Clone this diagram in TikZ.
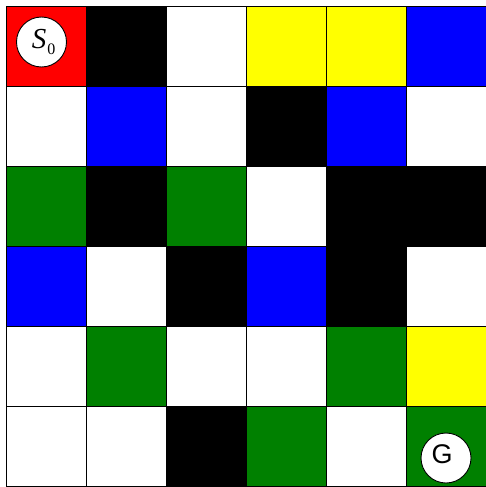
\documentclass[tikz,border=0pt]{standalone}
\usepackage{fontspec}
\newfontfamily\serifA{Liberation Serif}
\newfontfamily\sansA{Liberation Sans}
\definecolor{cR}{RGB}{255,0,0}
\definecolor{cK}{RGB}{0,0,0}
\definecolor{cW}{RGB}{255,255,255}
\definecolor{cY}{RGB}{255,255,0}
\definecolor{cB}{RGB}{0,0,255}
\definecolor{cG}{RGB}{0,128,0}
\tikzset{
  cellbox/.style={draw=black, line width=1.5pt},
  marker/.style={circle, draw=black, line width=0.9pt, fill=white, minimum size=50pt, inner sep=0pt},
}
\begin{document}
\begin{tikzpicture}[x=1pt,y=-1pt]
\useasboundingbox (0,0) rectangle (486,487);
\clip (0,0) rectangle (486,487);
\foreach \row [count=\r from 0] in {
  {cR,cK,cW,cY,cY,cB},
  {cW,cB,cW,cK,cB,cW},
  {cG,cK,cG,cW,cK,cK},
  {cB,cW,cK,cB,cK,cW},
  {cW,cG,cW,cW,cG,cY},
  {cW,cW,cK,cG,cW,cG}}{
  \foreach \c [count=\k from 0] in \row {
    \fill[\c] (6.5+80*\k,6.5+80*\r) rectangle ++(80,80);
  }
}
\foreach \k in {0,...,6}{
  \draw[line width=1.5pt] (6.5+80*\k,6.5) -- (6.5+80*\k,487);
  \draw[line width=1.5pt] (6.5,6.5+80*\k) -- (487,6.5+80*\k);
}
\node[marker] (s0) at (41.5,42) {};
\node at (43.5,42) {\fontsize{29}{29}\selectfont\serifA\itshape S\hspace{1pt}\raisebox{-6pt}{\fontsize{16}{16}\selectfont\upshape 0}};
\node[marker] (g) at (446,458) {};
\node at (442,454) {\fontsize{27}{27}\selectfont\sansA G};
\end{tikzpicture}
\end{document}
